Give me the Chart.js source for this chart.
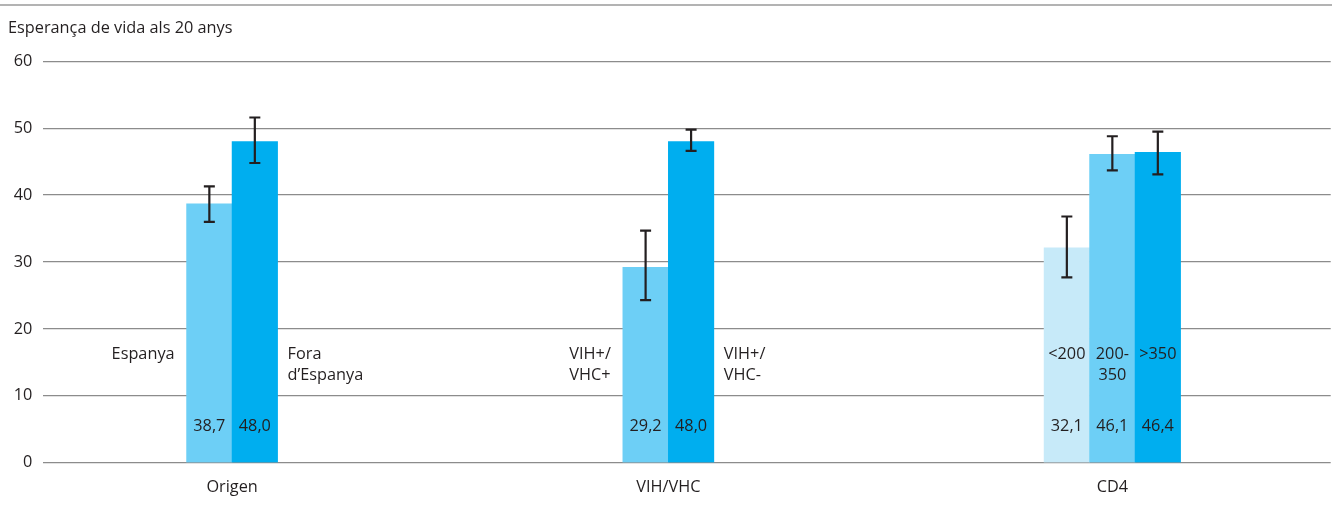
<!DOCTYPE html>
<html>
<head>
<meta charset="utf-8">
<script src="https://cdn.jsdelivr.net/npm/chart.js@4/dist/chart.umd.min.js"></script>
<style>
  html, body { margin: 0; padding: 0; background: #fff; }
  #wrap { width: 1336px; height: 506px; position: relative; }
</style>
</head>
<body>
<div id="wrap"><canvas id="chart"></canvas></div>
<script>
// data
const groups = ["Origen", "VIH/VHC", "CD4"];
const barGroup = [0, 0, 1, 1, 2, 2, 2];
const barLabels = [["Espanya"], ["Fora", "d\u2019Espanya"], ["VIH+/", "VHC+"], ["VIH+/", "VHC-"], ["<200"], ["200-", "350"], [">350"]];
const values = [38.7, 48.0, 29.2, 48.0, 32.1, 46.1, 46.4];
const errLow = [36.0, 44.8, 24.3, 46.6, 27.7, 43.7, 43.1];
const errHigh = [41.3, 51.6, 34.7, 49.8, 36.8, 48.8, 49.5];
const yTicks = [0, 10, 20, 30, 40, 50, 60];
const yTitle = "Esperança de vida als 20 anys";

// layout (not data)
const groupPos = [4.15, 13.74, 23.5];
const labelPlace = ["left", "right", "left", "right", "inside", "inside", "inside"];
const barColors = ["#6dcff6", "#00aeef", "#6dcff6", "#00aeef", "#c7eaf9", "#6dcff6", "#00aeef"];
const FONT = "'Open Sans', 'Noto Sans', sans-serif";
const INK = "#231f20";

// x position of each bar: centred within its group
const barX = barGroup.map(function (g, i) {
    const members = [];
    barGroup.forEach(function (gg, j) { if (gg === g) members.push(j); });
    const k = members.indexOf(i);
    return groupPos[g] + (k - (members.length - 1) / 2);
});

const decorPlugin = {
    id: "decor",
    beforeDraw(chart) {
        const ctx = chart.ctx;
        ctx.save();
        ctx.strokeStyle = "#9a9a9a";
        ctx.lineWidth = 1.5;
        ctx.beginPath();
        ctx.moveTo(0, 5);
        ctx.lineTo(1332, 5);
        ctx.stroke();
        ctx.fillStyle = INK;
        ctx.font = "16.3px " + FONT;
        ctx.textAlign = "left";
        ctx.textBaseline = "middle";
        ctx.fillText(yTitle, 8, 28);
        ctx.restore();
    },
    afterDatasetsDraw(chart) {
        const ctx = chart.ctx;
        const y = chart.scales.y;
        const meta = chart.getDatasetMeta(0);
        const bottom = chart.chartArea.bottom;
        ctx.save();
        // error bars
        ctx.strokeStyle = INK;
        ctx.lineWidth = 2.2;
        meta.data.forEach(function (bar, i) {
            const x = bar.x;
            const yh = y.getPixelForValue(errHigh[i]);
            const yl = y.getPixelForValue(errLow[i]);
            ctx.beginPath();
            ctx.moveTo(x, yh); ctx.lineTo(x, yl);
            ctx.moveTo(x - 5.5, yh); ctx.lineTo(x + 5.5, yh);
            ctx.moveTo(x - 5.5, yl); ctx.lineTo(x + 5.5, yl);
            ctx.stroke();
        });
        // value and bar labels
        ctx.fillStyle = INK;
        ctx.font = "16.3px " + FONT;
        ctx.textBaseline = "middle";
        meta.data.forEach(function (bar, i) {
            ctx.textAlign = "center";
            ctx.fillText(values[i].toFixed(1).replace(".", ","), bar.x, bottom - 36);
            const lines = barLabels[i];
            const half = bar.width / 2;
            const widest = Math.max.apply(null, lines.map(function (t) { return ctx.measureText(t).width; }));
            lines.forEach(function (t, li) {
                const ty = bottom - 108.5 + li * 21;
                if (labelPlace[i] === "inside") {
                    ctx.textAlign = "center";
                    ctx.fillText(t, bar.x, ty);
                } else if (labelPlace[i] === "left") {
                    ctx.textAlign = "left";
                    ctx.fillText(t, bar.x - half - 12 - widest, ty);
                } else {
                    ctx.textAlign = "left";
                    ctx.fillText(t, bar.x + half + 10, ty);
                }
            });
        });
        ctx.restore();
    }
};

new Chart(document.getElementById("chart"), {
    type: "bar",
    data: {
        datasets: [{
            data: values.map(function (v, i) { return { x: barX[i], y: v }; }),
            backgroundColor: barColors,
            borderWidth: 0,
            barPercentage: 1,
            categoryPercentage: 1
        }]
    },
    options: {
        responsive: true,
        maintainAspectRatio: false,
        animation: false,
        layout: { padding: { top: 61.3, right: 5.3, bottom: 0, left: 0 } },
        plugins: {
            legend: { display: false },
            tooltip: { enabled: false },
            title: { display: false }
        },
        scales: {
            x: {
                type: "linear",
                min: 0,
                max: 28.3,
                offset: false,
                grid: { display: false, drawTicks: false },
                border: { display: false },
                afterBuildTicks: function (scale) {
                    scale.ticks = groupPos.map(function (v) { return { value: v }; });
                },
                afterFit: function (scale) { scale.height = 43.3; },
                ticks: {
                    autoSkip: false,
                    maxRotation: 0,
                    padding: 15,
                    color: INK,
                    font: { family: FONT, size: 16.3 },
                    callback: function (v, i) { return groups[i]; }
                }
            },
            y: {
                min: 0,
                max: 60,
                afterBuildTicks: function (scale) {
                    scale.ticks = yTicks.map(function (v) { return { value: v }; });
                },
                afterFit: function (scale) { scale.width = 43.3; },
                grid: { color: "#8c8c8c", lineWidth: 1.3, drawTicks: false },
                border: { display: false },
                ticks: {
                    padding: 11,
                    color: INK,
                    font: { family: FONT, size: 16.3 }
                }
            }
        }
    },
    plugins: [decorPlugin]
});
</script>
</body>
</html>
